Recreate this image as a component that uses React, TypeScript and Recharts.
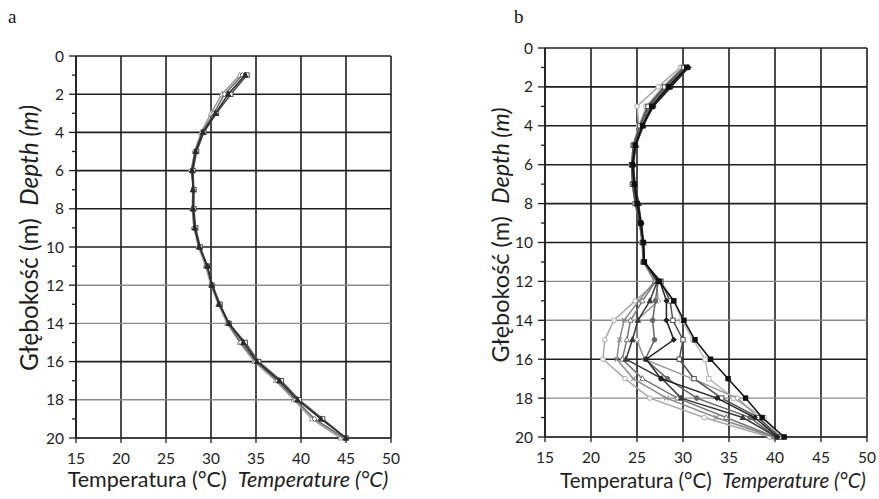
import { ScatterChart, Scatter, XAxis, YAxis, CartesianGrid, ReferenceLine } from "recharts";

// depth stations (m)
const depths = [1, 2, 3, 4, 5, 6, 7, 8, 9, 10, 11, 12, 13, 14, 15, 16, 17, 18, 19, 20];
const tempTicks = [15, 20, 25, 30, 35, 40, 45, 50];
const depthTicks = [0, 1, 2, 3, 4, 5, 6, 7, 8, 9, 10, 11, 12, 13, 14, 15, 16, 17, 18, 19, 20];
const depthGrid = [0, 2, 4, 6, 8, 10, 12, 14, 16, 18, 20];

// panel a – temperature (°C) per depth
const tempA1 = [33.8, 31.9, 30.5, 29.1, 28.3, 27.9, 28.0, 28.0, 28.2, 28.7, 29.6, 30.1, 30.9, 32.0, 33.6, 35.1, 37.6, 39.6, 42.2, 45.0];
const tempA2 = [33.5, 31.5, 30.3, 29.0, 28.2, 27.8, 28.1, 28.0, 28.1, 28.8, 29.5, 30.2, 31.0, 31.9, 33.3, 35.0, 37.4, 39.4, 41.5, 44.8];
const tempA3 = [33.2, 31.2, 30.0, 28.9, 28.2, 27.9, 28.0, 27.9, 28.1, 28.6, 29.4, 30.0, 30.8, 31.8, 33.2, 34.8, 37.2, 39.2, 41.2, 44.4];
const tempA4 = [34.0, 32.2, 30.6, 29.2, 28.4, 28.0, 28.1, 28.1, 28.3, 28.8, 29.6, 30.1, 31.0, 32.0, 33.8, 35.3, 37.8, 39.8, 42.4, 45.0];

// panel b – temperature (°C) per depth
const tempB1 = [29.7, 27.3, 25.0, 25.2, 24.6, 24.4, 24.5, 24.8, 25.3, 25.5, 25.7, 27.2, 24.8, 22.5, 21.5, 21.3, 23.7, 26.4, 32.3, 39.4];
const tempB2 = [30.0, 27.9, 26.1, 25.3, 24.7, 24.5, 24.6, 24.9, 25.3, 25.6, 25.7, 26.9, 25.2, 23.6, 23.1, 22.8, 24.6, 28.2, 33.6, 39.8];
const tempB3 = [30.2, 28.1, 26.3, 25.4, 24.6, 24.5, 24.7, 25.0, 25.4, 25.6, 25.7, 27.0, 25.6, 24.3, 23.9, 23.4, 25.6, 29.4, 34.7, 40.0];
const tempB4 = [30.5, 28.6, 26.7, 25.7, 24.9, 24.6, 24.8, 25.2, 25.4, 25.7, 25.8, 27.2, 26.4, 25.1, 24.5, 23.8, 27.7, 29.8, 36.5, 40.2];
const tempB5 = [30.3, 28.3, 26.4, 25.5, 24.7, 24.5, 24.6, 24.9, 25.3, 25.6, 25.7, 27.3, 27.0, 26.7, 26.9, 25.9, 28.3, 31.5, 37.3, 40.1];
const tempB6 = [30.6, 28.7, 26.8, 25.6, 24.8, 24.6, 24.7, 25.1, 25.5, 25.7, 25.8, 27.5, 28.2, 28.2, 29.0, 26.0, 27.6, 33.7, 37.8, 40.3];
const tempB7 = [30.1, 28.0, 26.2, 25.3, 24.6, 24.4, 24.5, 24.8, 25.3, 25.6, 25.7, 27.6, 28.6, 28.9, 30.0, 29.6, 31.2, 34.2, 38.2, 40.5];
const tempB8 = [29.9, 27.8, 26.0, 25.2, 24.6, 24.4, 24.6, 25.0, 25.4, 25.6, 25.7, 27.6, 29.0, 29.9, 31.1, 32.4, 32.8, 35.5, 38.8, 40.6];
const tempB9 = [30.4, 28.4, 26.6, 25.6, 24.8, 24.5, 24.7, 25.0, 25.4, 25.7, 25.8, 27.4, 29.0, 30.1, 31.3, 33.0, 34.9, 36.8, 38.6, 41.0];
const tempB10 = [30.2, 28.2, 26.4, 25.5, 24.7, 24.5, 24.6, 24.9, 25.3, 25.6, 25.7, 27.1, 27.3, 25.0, 25.0, 25.8, 31.0, 35.9, 38.2, 40.2];

type Kind = "square" | "triangle" | "circle" | "diamond" | "cross";
interface Series { temps: number[]; color: string; kind: Kind; filled: boolean }

const seriesA: Series[] = [
  { temps: tempA3, color: "#9a9a9a", kind: "triangle", filled: false },
  { temps: tempA2, color: "#6a6a6a", kind: "diamond", filled: false },
  { temps: tempA4, color: "#4a4a4a", kind: "square", filled: false },
  { temps: tempA1, color: "#2a2a2a", kind: "triangle", filled: true },
];

const seriesB: Series[] = [
  { temps: tempB1, color: "#a8a8a8", kind: "circle", filled: false },
  { temps: tempB8, color: "#b8b8b8", kind: "square", filled: false },
  { temps: tempB2, color: "#8a8a8a", kind: "cross", filled: false },
  { temps: tempB3, color: "#777", kind: "triangle", filled: false },
  { temps: tempB10, color: "#959595", kind: "diamond", filled: false },
  { temps: tempB5, color: "#666", kind: "circle", filled: true },
  { temps: tempB4, color: "#3a3a3a", kind: "triangle", filled: true },
  { temps: tempB7, color: "#505050", kind: "square", filled: false },
  { temps: tempB6, color: "#222", kind: "diamond", filled: true },
  { temps: tempB9, color: "#111", kind: "square", filled: true },
];

const INK = "#1e1e1e";
const FONT = "Lato, 'Open Sans', sans-serif";

function marker(kind: Kind, color: string, filled: boolean) {
  return (p: any) => {
    const { cx, cy } = p;
    const fill = filled ? color : "#fff";
    const s = 2.6;
    if (kind === "circle") return <circle cx={cx} cy={cy} r={2.3} fill={fill} stroke={color} strokeWidth={1} />;
    if (kind === "triangle")
      return <polygon points={`${cx},${cy - s - 0.4} ${cx + s},${cy + s - 0.6} ${cx - s},${cy + s - 0.6}`} fill={fill} stroke={color} strokeWidth={1} />;
    if (kind === "diamond")
      return <polygon points={`${cx},${cy - s} ${cx + s},${cy} ${cx},${cy + s} ${cx - s},${cy}`} fill={fill} stroke={color} strokeWidth={1} />;
    if (kind === "cross")
      return (
        <g stroke={color} strokeWidth={1.1}>
          <line x1={cx - 2.3} y1={cy - 2.3} x2={cx + 2.3} y2={cy + 2.3} />
          <line x1={cx - 2.3} y1={cy + 2.3} x2={cx + 2.3} y2={cy - 2.3} />
        </g>
      );
    return <rect x={cx - 2.2} y={cy - 2.2} width={4.4} height={4.4} fill={fill} stroke={color} strokeWidth={1} />;
  };
}

function DepthTick(props: any) {
  const { x, y, payload } = props;
  const ax = x + 11;
  const major = payload.value % 2 === 0;
  return (
    <g>
      <line x1={ax - (major ? 7 : 4)} x2={ax} y1={y} y2={y} stroke={INK} strokeWidth={1.3} />
      {major && (
        <text x={ax - 12} y={y} dy={5.5} textAnchor="end" fontSize={15.5} fill={INK} fontFamily={FONT}>
          {payload.value}
        </text>
      )}
    </g>
  );
}

function Profile({ series, width, height, margin }: {
  series: Series[];
  width: number;
  height: number;
  margin: { top: number; right: number; bottom: number; left: number };
}) {
  return (
    <ScatterChart width={width} height={height} margin={margin}>
      <CartesianGrid horizontal={false} stroke={INK} strokeWidth={1.6} />
      {depthGrid.map((d) => (
        <ReferenceLine
          key={d}
          y={d}
          stroke={d >= 12 && d !== 16 ? "#8a8a8a" : INK}
          strokeWidth={d >= 12 && d !== 16 ? 1.4 : 1.6}
        />
      ))}
      <XAxis
        type="number"
        dataKey="t"
        domain={[15, 50]}
        ticks={tempTicks}
        interval={0}
        tickSize={5}
        tickMargin={10}
        axisLine={{ stroke: INK, strokeWidth: 1.4 }}
        tickLine={{ stroke: INK, strokeWidth: 1.3 }}
        tick={{ fontSize: 15.5, fill: INK, fontFamily: FONT }}
        height={30}
      />
      <YAxis
        type="number"
        dataKey="d"
        domain={[0, 20]}
        reversed
        ticks={depthTicks}
        interval={0}
        tickSize={7}
        tickMargin={4}
        tickLine={false}
        axisLine={{ stroke: INK, strokeWidth: 1.6 }}
        tick={<DepthTick />}
        width={30}
      />
      {series.map((s, i) => (
        <Scatter
          key={i}
          data={depths.map((d, j) => ({ d, t: s.temps[j] }))}
          line={{ stroke: s.color, strokeWidth: 1.5 }}
          lineType="joint"
          shape={marker(s.kind, s.color, s.filled)}
          isAnimationActive={false}
        />
      ))}
    </ScatterChart>
  );
}

function AxisTitles({ xCenter, xSize, yCenterX, yCenterY, ySize }: {
  xCenter: number; xSize: number; yCenterX: number; yCenterY: number; ySize: number;
}) {
  const base: React.CSSProperties = { position: "absolute", fontFamily: FONT, color: INK, whiteSpace: "nowrap", lineHeight: 1 };
  return (
    <>
      <div style={{ ...base, fontSize: xSize, left: xCenter, top: 480, transform: "translate(-50%, -50%)" }}>
        Temperatura (°C)&nbsp;&nbsp;<i>Temperature (°C)</i>
      </div>
      <div
        style={{
          ...base,
          fontSize: ySize,
          left: yCenterX,
          top: yCenterY,
          transform: "translate(-50%, -50%) rotate(-90deg)",
        }}
      >
        Głębokość (m)&nbsp;&nbsp;<i>Depth (m)</i>
      </div>
    </>
  );
}

export default function App() {
  return (
    <div style={{ position: "absolute", left: 0, top: 0, width: 879, height: 499, background: "#fff", overflow: "hidden" }}>
      <div style={{ position: "absolute", left: 0, top: 0 }}>
        <Profile series={seriesA} width={440} height={499} margin={{ top: 56, right: 49, bottom: 31, left: 46 }} />
      </div>
      <div style={{ position: "absolute", left: 440, top: 0 }}>
        <Profile series={seriesB} width={439} height={499} margin={{ top: 48, right: 12, bottom: 32, left: 75 }} />
      </div>
      <AxisTitles xCenter={228} xSize={21.5} yCenterX={29} yCenterY={238} ySize={24.5} />
      <AxisTitles xCenter={713} xSize={20.5} yCenterX={501} yCenterY={235} ySize={23.5} />
      <div style={{ position: "absolute", left: 8, top: 6, fontFamily: "'Liberation Serif', serif", fontSize: 19, color: "#111" }}>a</div>
      <div style={{ position: "absolute", left: 514, top: 6, fontFamily: "'Liberation Serif', serif", fontSize: 19, color: "#111" }}>b</div>
    </div>
  );
}
